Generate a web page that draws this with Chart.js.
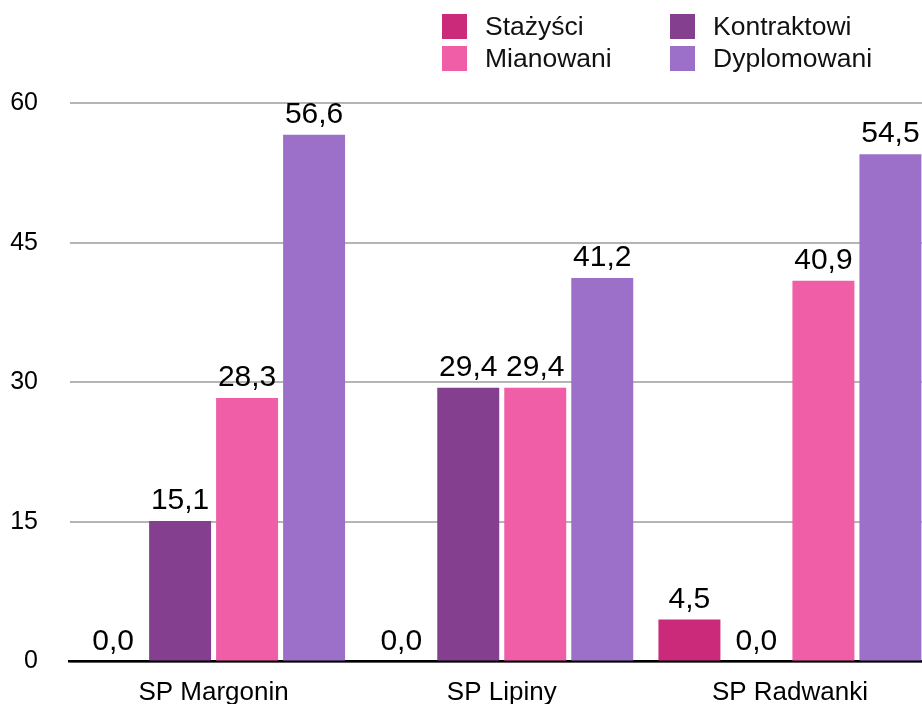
<!DOCTYPE html>
<html>
<head>
<meta charset="utf-8">
<script src="https://cdn.jsdelivr.net/npm/chart.js@4"></script>
<style>
  html, body { margin: 0; padding: 0; background: #fff; overflow: hidden; }
  #wrap { position: relative; width: 922px; height: 704px; overflow: hidden; }
  #chart { display: block; }
  #legend { position: absolute; left: 0; top: 0; width: 922px; height: 80px;
            font-family: "Liberation Sans", Arial, sans-serif; font-size: 26.5px; color: #111; }
  .item { position: absolute; display: flex; align-items: center; height: 25px; }
  .box { width: 25px; height: 25px; margin-right: 18px; }
</style>
</head>
<body>
<div id="wrap">
  <canvas id="chart" width="940" height="708"></canvas>
  <div id="legend"></div>
</div>
<script>
const categories = ["SP Margonin", "SP Lipiny", "SP Radwanki"];
const seriesNames = ["Stażyści", "Kontraktowi", "Mianowani", "Dyplomowani"];
const stazysci = [0, 0, 4.5];
const kontraktowi = [15.1, 29.4, 0];
const mianowani = [28.3, 29.4, 40.9];
const dyplomowani = [56.6, 41.2, 54.5];
const yTicks = [0, 15, 30, 45, 60];

const colors = ["#cb2a7b", "#843f8f", "#ef5ea6", "#9c70c8"];
const values = [stazysci, kontraktowi, mianowani, dyplomowani];

// legend in two columns, like the original
const legendPos = [[442, 14], [670, 14], [442, 46], [670, 46]];
const legend = document.getElementById("legend");
seriesNames.forEach((name, i) => {
  const el = document.createElement("div");
  el.className = "item";
  el.style.left = legendPos[i][0] + "px";
  el.style.top = legendPos[i][1] + "px";
  el.innerHTML = '<span class="box" style="background:' + colors[i] + '"></span><span>' + name + "</span>";
  legend.appendChild(el);
});

const fmt = v => v.toFixed(1).replace(".", ",");

const valueLabels = {
  id: "valueLabels",
  afterDatasetsDraw(chart) {
    const ctx = chart.ctx;
    ctx.save();
    ctx.font = '30px "Liberation Sans", Arial, sans-serif';
    ctx.fillStyle = "#000";
    ctx.textAlign = "center";
    ctx.textBaseline = "alphabetic";
    chart.data.datasets.forEach((ds, i) => {
      chart.getDatasetMeta(i).data.forEach((bar, j) => {
        ctx.fillText(fmt(ds.data[j]), bar.x, bar.y - 12);
      });
    });
    ctx.restore();
  }
};

new Chart(document.getElementById("chart").getContext("2d"), {
  type: "bar",
  data: {
    labels: categories,
    datasets: seriesNames.map((name, i) => ({
      label: name,
      data: values[i],
      backgroundColor: colors[i],
      categoryPercentage: 0.93,
      barPercentage: 0.925
    }))
  },
  options: {
    responsive: false,
    animation: false,
    devicePixelRatio: 1,
    layout: { padding: { top: 103, right: 6, left: 0, bottom: 0 } },
    plugins: { legend: { display: false }, tooltip: { enabled: false } },
    scales: {
      x: {
        afterFit: scale => { scale.height = 43; },
        grid: { display: false, drawTicks: false },
        border: { color: "#000", width: 2.5 },
        ticks: { color: "#000", padding: 16, font: { family: "Liberation Sans", size: 26 } }
      },
      y: {
        min: 0,
        max: 60,
        afterBuildTicks: scale => { scale.ticks = yTicks.map(v => ({ value: v })); },
        afterFit: scale => { scale.width = 69.5; },
        grid: { color: "#b5b5b5", lineWidth: 2, drawTicks: false },
        border: { display: false },
        ticks: { color: "#000", padding: 31.5, font: { family: "Liberation Sans", size: 25 } }
      }
    }
  },
  plugins: [valueLabels]
});
</script>
</body>
</html>
